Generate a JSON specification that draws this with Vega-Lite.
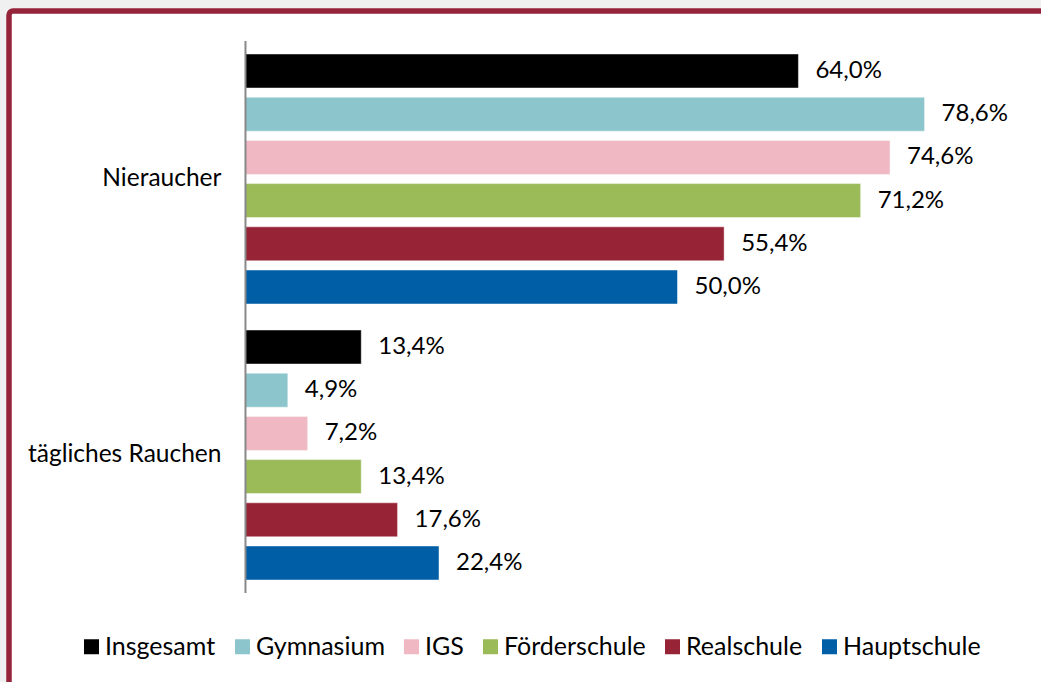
{
  "$schema": "https://vega.github.io/schema/vega-lite/v6.json",
  "autosize": "none",
  "padding": {"left": 9, "top": 11, "right": 0, "bottom": 0},
  "width": 1045,
  "height": 680,
  "background": "#f0f0f0",
  "view": {"stroke": "#95233A", "strokeWidth": 5.5, "fill": "white", "cornerRadius": 4},
  "config": {"font": "Lato"},
  "datasets": {
    "bars": [
      {"cat": "Nieraucher", "series": "Insgesamt", "value": 64.0},
      {"cat": "Nieraucher", "series": "Gymnasium", "value": 78.6},
      {"cat": "Nieraucher", "series": "IGS", "value": 74.6},
      {"cat": "Nieraucher", "series": "Förderschule", "value": 71.2},
      {"cat": "Nieraucher", "series": "Realschule", "value": 55.4},
      {"cat": "Nieraucher", "series": "Hauptschule", "value": 50.0},
      {"cat": "tägliches Rauchen", "series": "Insgesamt", "value": 13.4},
      {"cat": "tägliches Rauchen", "series": "Gymnasium", "value": 4.9},
      {"cat": "tägliches Rauchen", "series": "IGS", "value": 7.2},
      {"cat": "tägliches Rauchen", "series": "Förderschule", "value": 13.4},
      {"cat": "tägliches Rauchen", "series": "Realschule", "value": 17.6},
      {"cat": "tägliches Rauchen", "series": "Hauptschule", "value": 22.4}
    ],
    "cats": [{"cat": "Nieraucher"}, {"cat": "tägliches Rauchen"}]
  },
  "layer": [
    {
      "data": {"name": "bars"},
      "mark": {"type": "bar", "stroke": "#ffffff", "strokeOpacity": 0.45, "strokeWidth": 1},
      "encoding": {
        "y": {"field": "cat", "type": "nominal", "axis": null,
              "scale": {"domain": ["Nieraucher", "tägliches Rauchen"], "paddingInner": 0, "paddingOuter": 0.2319, "align": 0.2344}},
        "x": {"field": "value", "type": "quantitative", "axis": null,
              "scale": {"domain": [-27.37, 93.58], "nice": false, "zero": false}},
        "yOffset": {"field": "series", "type": "nominal",
              "sort": ["Insgesamt", "Gymnasium", "IGS", "Förderschule", "Realschule", "Hauptschule"],
              "scale": {"paddingInner": 0.213, "paddingOuter": 0.301}},
        "color": {"field": "series", "type": "nominal",
              "scale": {"domain": ["Insgesamt", "Gymnasium", "IGS", "Förderschule", "Realschule", "Hauptschule"],
                        "range": ["#000000", "#8CC5CC", "#EFB8C2", "#9BBB59", "#962336", "#005EA6"]},
              "legend": {"orient": "none", "direction": "horizontal", "legendX": 70, "legendY": 623,
                         "title": null, "symbolType": "square", "symbolSize": 225, "symbolStrokeWidth": 0,
                         "labelFont": "Lato", "labelFontSize": 25, "labelColor": "#000000", "labelOffset": 1,
                         "labelLimit": 300, "columnPadding": 14, "symbolOpacity": 1}}
      }
    },
    {
      "data": {"name": "bars"},
      "transform": [{"calculate": "replace(format(datum.value, '.1f'), '.', ',') + '%'", "as": "label"}],
      "mark": {"type": "text", "align": "left", "baseline": "middle", "dx": 17, "fontSize": 24, "color": "#000000"},
      "encoding": {
        "y": {"field": "cat", "type": "nominal"},
        "x": {"field": "value", "type": "quantitative"},
        "yOffset": {"field": "series", "type": "nominal",
              "sort": ["Insgesamt", "Gymnasium", "IGS", "Förderschule", "Realschule", "Hauptschule"]},
        "text": {"field": "label"}
      }
    },
    {
      "data": {"name": "cats"},
      "mark": {"type": "rect", "color": "#888888"},
      "encoding": {
        "y": {"field": "cat", "type": "nominal"},
        "x": {"datum": -0.115},
        "x2": {"datum": 0.115}
      }
    },
    {
      "data": {"name": "cats"},
      "mark": {"type": "text", "align": "right", "baseline": "middle", "dx": -24, "fontSize": 24.5, "color": "#000000"},
      "encoding": {
        "y": {"field": "cat", "type": "nominal"},
        "x": {"datum": 0},
        "text": {"field": "cat"}
      }
    }
  ]
}
